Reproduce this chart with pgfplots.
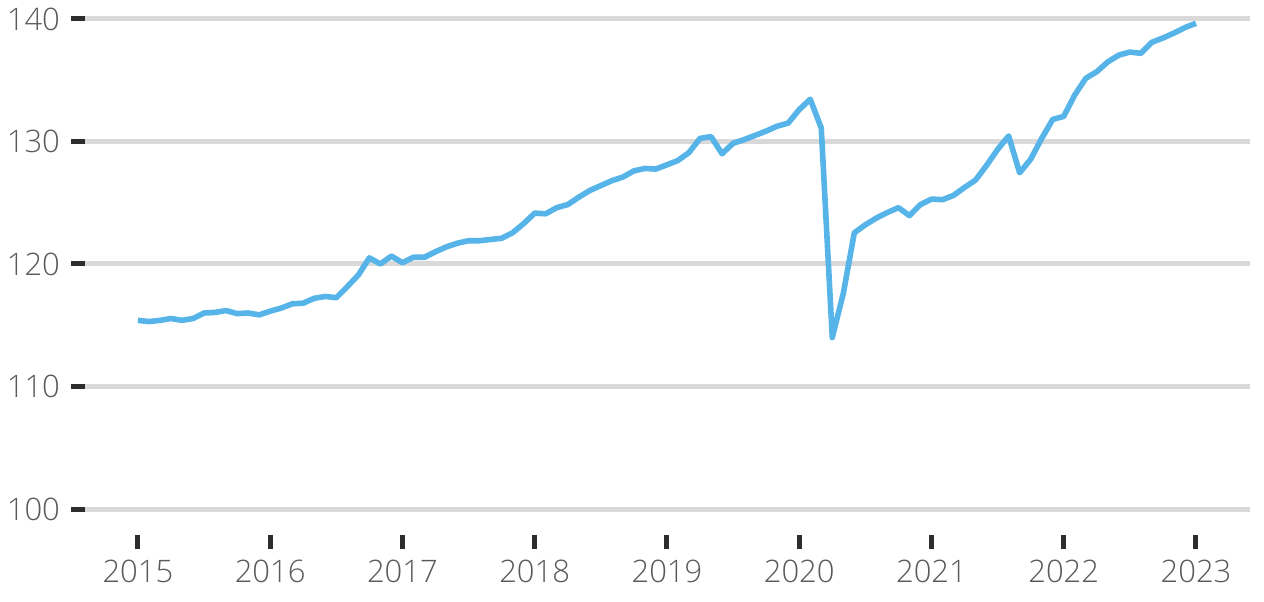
\documentclass[border=0pt]{standalone}
\usepackage{fontspec}
\setmainfont{Open Sans}[UprightFont={* Light}]
\usepackage{pgfplots}
\pgfplotsset{compat=1.18}
\definecolor{linecol}{RGB}{86,180,233}
\definecolor{gridcol}{RGB}{217,217,217}
\definecolor{tickcol}{RGB}{45,45,45}
\definecolor{labcol}{RGB}{90,90,90}
\begin{document}
\begin{tikzpicture}
\begin{axis}[
  scale only axis,
  width=582.5pt, height=258pt,
  xmin=-4.8, xmax=100.9,
  ymin=97.88, ymax=140,
  xtick={0,12,24,36,48,60,72,84,96},
  xticklabels={2015,2016,2017,2018,2019,2020,2021,2022,2023},
  ytick={100,110,120,130,140},
  axis line style={draw=none},
  ymajorgrids,
  grid style={gridcol, line width=2.5pt},
  tick align=outside,
  major tick length=7pt,
  tick style={tickcol, line width=2.5pt},
  xtick pos=bottom, ytick pos=left,
  ticklabel style={font=\fontsize{15.5}{17}\selectfont, text=labcol},
  yticklabel style={xshift=-2pt},
  xticklabel style={yshift=-2pt},
  /pgf/number format/assume math mode=true,
  clip=false,
]
\addplot[linecol, line width=2.8pt, line join=round] coordinates {
(0,115.4)(1,115.3)(2,115.4)(3,115.55)(4,115.4)(5,115.55)(6,116.0)(7,116.05)(8,116.2)(9,115.95)(10,116.0)(11,115.85)
(12,116.15)(13,116.4)(14,116.75)(15,116.8)(16,117.2)(17,117.35)(18,117.25)(19,118.15)(20,119.1)(21,120.5)(22,120.0)(23,120.65)
(24,120.1)(25,120.55)(26,120.55)(27,121.0)(28,121.4)(29,121.7)(30,121.9)(31,121.9)(32,122.0)(33,122.1)(34,122.55)(35,123.3)
(36,124.15)(37,124.1)(38,124.6)(39,124.85)(40,125.45)(41,126.0)(42,126.4)(43,126.8)(44,127.1)(45,127.6)(46,127.8)(47,127.75)
(48,128.1)(49,128.45)(50,129.1)(51,130.25)(52,130.4)(53,129.0)(54,129.85)(55,130.15)(56,130.5)(57,130.85)(58,131.25)(59,131.5)
(60,132.6)(61,133.45)(62,131.1)(63,114.0)(64,117.6)(65,122.55)(66,123.2)(67,123.75)(68,124.2)(69,124.6)(70,123.95)(71,124.85)
(72,125.3)(73,125.25)(74,125.6)(75,126.25)(76,126.85)(77,128.05)(78,129.35)(79,130.45)(80,127.45)(81,128.55)(82,130.25)(83,131.8)
(84,132.05)(85,133.8)(86,135.15)(87,135.7)(88,136.5)(89,137.05)(90,137.3)(91,137.2)(92,138.1)(93,138.45)(94,138.85)(95,139.3)
(96,139.65)
};
\end{axis}
\pgfresetboundingbox
\path ([shift={(-42.5pt,-33.5pt)}]current axis.south west) rectangle ([shift={(7pt,9.5pt)}]current axis.north east);
\end{tikzpicture}
\end{document}
